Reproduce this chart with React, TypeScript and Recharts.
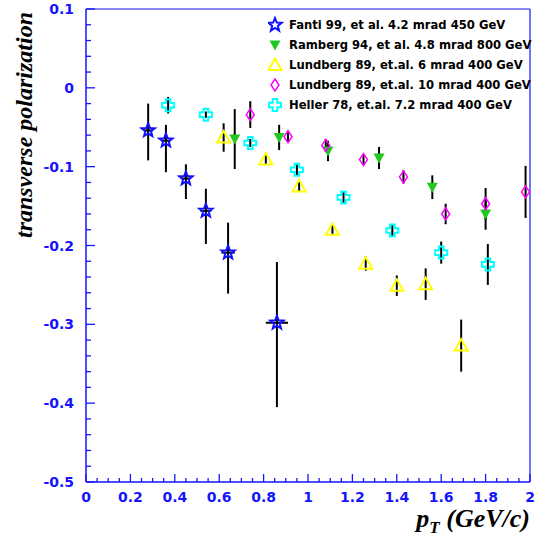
import React from "react";
import {
    ScatterChart,
    Scatter,
    XAxis,
    YAxis,
    ErrorBar,
    ReferenceLine,
    Legend,
} from "recharts";

// Fanti 99, 4.2 mrad 450 GeV (asymmetric errors: below, above)
const fantiPt = [0.28, 0.36, 0.45, 0.54, 0.64, 0.86];
const fantiPol = [-0.054, -0.067, -0.115, -0.156, -0.209, -0.298];
const fantiErrLow = [0.038, 0.04, 0.026, 0.042, 0.052, 0.107];
const fantiErrHigh = [0.034, 0.02, 0.018, 0.028, 0.038, 0.077];
const fantiPtErr = [0.02, 0.02, 0.02, 0.025, 0.03, 0.05];

// Ramberg 94, 4.8 mrad 800 GeV
const rambergPt = [0.67, 0.87, 1.09, 1.32, 1.56, 1.8];
const rambergPol = [-0.065, -0.063, -0.08, -0.089, -0.126, -0.16];
const rambergErr = [0.038, 0.016, 0.013, 0.014, 0.015, 0.02];

// Lundberg 89, 6 mrad 400 GeV
const lund6Pt = [0.62, 0.81, 0.96, 1.11, 1.26, 1.4, 1.53, 1.69];
const lund6Pol = [-0.063, -0.091, -0.125, -0.18, -0.223, -0.251, -0.249, -0.327];
const lund6Err = [0.018, 0.006, 0.006, 0.007, 0.009, 0.013, 0.02, 0.033];

// Lundberg 89, 10 mrad 400 GeV
const lund10Pt = [0.74, 0.91, 1.08, 1.25, 1.43, 1.62, 1.8, 1.98];
const lund10Pol = [-0.034, -0.062, -0.073, -0.091, -0.113, -0.16, -0.147, -0.132];
const lund10Err = [0.017, 0.007, 0.008, 0.006, 0.0085, 0.013, 0.02, 0.033];

// Heller 78, 7.2 mrad 400 GeV
const hellerPt = [0.37, 0.54, 0.74, 0.95, 1.16, 1.38, 1.6, 1.81];
const hellerPol = [-0.022, -0.034, -0.07, -0.104, -0.139, -0.181, -0.209, -0.224];
const hellerErr = [0.0105, 0.004, 0.005, 0.007, 0.007, 0.008, 0.014, 0.026];

const legendLabels = [
    "Fanti 99, et al. 4.2 mrad 450 GeV",
    "Ramberg 94, et al. 4.8 mrad 800 GeV",
    "Lundberg 89, et.al. 6 mrad 400 GeV",
    "Lundberg 89, et.al. 10 mrad 400 GeV",
    "Heller 78, et.al. 7.2 mrad 400 GeV",
];

// axis ticks in hundredths
const xTicks = Array.from({ length: 41 }, (_, i) => (i * 5) / 100);
const yTicks = Array.from({ length: 31 }, (_, i) => (-50 + i * 2) / 100);

const AXIS = "#1414ff";

const toPoints = (xs: number[], ys: number[], es: number[]) =>
    xs.map((x, i) => ({ x, y: ys[i], ey: es[i], ex: 0 }));

const fanti = fantiPt.map((x, i) => ({
    x,
    y: fantiPol[i],
    ey: [fantiErrLow[i], fantiErrHigh[i]],
    ex: fantiPtErr[i],
}));
const ramberg = toPoints(rambergPt, rambergPol, rambergErr);
const lund6 = toPoints(lund6Pt, lund6Pol, lund6Err);
const lund10 = toPoints(lund10Pt, lund10Pol, lund10Err);
const heller = toPoints(hellerPt, hellerPol, hellerErr);

const fmt = (v: number) => String(Math.round(v * 100) / 100);

function Star({ cx, cy }: { cx: number; cy: number }) {
    const pts: string[] = [];
    for (let k = 0; k < 10; k++) {
        const r = k % 2 === 0 ? 7 : 3;
        const a = -Math.PI / 2 + (k * Math.PI) / 5;
        pts.push(`${cx + r * Math.cos(a)},${cy + r * Math.sin(a)}`);
    }
    return <polygon points={pts.join(" ")} fill="none" stroke="#1010ff" strokeWidth={2} />;
}

function TriDown({ cx, cy }: { cx: number; cy: number }) {
    return (
        <polygon
            points={`${cx - 5.5},${cy - 4.5} ${cx + 5.5},${cy - 4.5} ${cx},${cy + 5.5}`}
            fill="#1ec81e"
        />
    );
}

function TriUp({ cx, cy }: { cx: number; cy: number }) {
    return (
        <polygon
            points={`${cx},${cy - 6.5} ${cx + 6.5},${cy + 5} ${cx - 6.5},${cy + 5}`}
            fill="none"
            stroke="#ffff00"
            strokeWidth={2}
        />
    );
}

function Diamond({ cx, cy }: { cx: number; cy: number }) {
    return (
        <polygon
            points={`${cx},${cy - 6} ${cx + 4},${cy} ${cx},${cy + 6} ${cx - 4},${cy}`}
            fill="none"
            stroke="#ff00ff"
            strokeWidth={1.5}
        />
    );
}

function Cross({ cx, cy }: { cx: number; cy: number }) {
    const a = 2.3;
    const l = 6;
    const d = [
        [-a, -l], [a, -l], [a, -a], [l, -a], [l, a], [a, a],
        [a, l], [-a, l], [-a, a], [-l, a], [-l, -a], [-a, -a],
    ]
        .map(([dx, dy]) => `${cx + dx},${cy + dy}`)
        .join(" ");
    return <polygon points={d} fill="none" stroke="#00ffff" strokeWidth={2} />;
}

const markers = [Star, TriDown, TriUp, Diamond, Cross];

const XTick = (props: any) => {
    const { x, y, payload } = props;
    const v = payload.value;
    const major = Math.round(v * 100) % 20 === 0;
    return (
        <g>
            <line x1={x} x2={x} y1={y} y2={y - (major ? 8 : 4)} stroke={AXIS} strokeWidth={1.3} />
            {major && (
                <text
                    x={x}
                    y={y + 20}
                    textAnchor="middle"
                    fill={AXIS}
                    fontFamily="DejaVu Sans"
                    fontWeight="bold"
                    fontSize={14}
                >
                    {fmt(v)}
                </text>
            )}
        </g>
    );
};

const YTick = (props: any) => {
    const { x, y, payload } = props;
    const v = payload.value;
    const major = Math.round(v * 100) % 10 === 0;
    return (
        <g>
            <line x1={x} x2={x + (major ? 9 : 5)} y1={y} y2={y} stroke={AXIS} strokeWidth={1.3} />
            {major && (
                <text
                    x={x - 12}
                    y={y + 5}
                    textAnchor="end"
                    fill={AXIS}
                    fontFamily="DejaVu Sans"
                    fontWeight="bold"
                    fontSize={14}
                >
                    {fmt(v)}
                </text>
            )}
        </g>
    );
};

const renderLegend = () => (
    <svg width={268} height={100}>
        {legendLabels.map((label, i) => {
            const M = markers[i];
            return (
                <g key={label}>
                    <M cx={7} cy={10 + i * 20} />
                    <text
                        x={21}
                        y={14 + i * 20}
                        fontFamily="DejaVu Sans"
                        fontWeight="bold"
                        fontSize={11.6}
                        fill="#000"
                    >
                        {label}
                    </text>
                </g>
            );
        })}
    </svg>
);

const series = [
    { name: "fanti", data: fanti, shape: Star, xerr: true },
    { name: "ramberg", data: ramberg, shape: TriDown, xerr: false },
    { name: "lund6", data: lund6, shape: TriUp, xerr: false },
    { name: "lund10", data: lund10, shape: Diamond, xerr: false },
    { name: "heller", data: heller, shape: Cross, xerr: false },
];

export default function App() {
    return (
        <div style={{ position: "absolute", left: 0, top: 0 }}>
            <ScatterChart
                width={537}
                height={540}
                margin={{ top: 9, right: 7, bottom: 0, left: 0 }}
            >
                <XAxis
                    type="number"
                    dataKey="x"
                    domain={[0, 2]}
                    ticks={xTicks}
                    interval={0}
                    allowDataOverflow
                    height={58}
                    tickSize={0}
                    tickMargin={0}
                    tickLine={false}
                    tick={<XTick />}
                    axisLine={{ stroke: AXIS, strokeWidth: 1.5 }}
                    label={{
                        content: () => (
                            <text
                                x={530}
                                y={527}
                                textAnchor="end"
                                fontFamily="Liberation Serif"
                                fontStyle="italic"
                                fontWeight="bold"
                                fontSize={26}
                                fill="#000"
                            >
                                <tspan>p</tspan>
                                <tspan fontSize={17} dy={6}>T</tspan>
                                <tspan dy={-6}> (GeV/c)</tspan>
                            </text>
                        ),
                    }}
                />
                <YAxis
                    type="number"
                    dataKey="y"
                    domain={[-0.5, 0.1]}
                    ticks={yTicks}
                    interval={0}
                    allowDataOverflow
                    width={86}
                    tickSize={0}
                    tickMargin={0}
                    tickLine={false}
                    tick={<YTick />}
                    axisLine={{ stroke: AXIS, strokeWidth: 1.5 }}
                    label={{
                        content: () => (
                            <text
                                x={32}
                                y={12}
                                transform="rotate(-90 32 12)"
                                textAnchor="end"
                                fontFamily="Liberation Serif"
                                fontStyle="italic"
                                fontWeight="bold"
                                fontSize={24}
                                fill="#000"
                            >
                                transverse polarization
                            </text>
                        ),
                    }}
                />
                <ReferenceLine y={0.1} stroke={AXIS} strokeWidth={1.2} />
                <ReferenceLine x={2} stroke={AXIS} strokeWidth={1.2} />
                <Legend
                    layout="vertical"
                    align="center"
                    verticalAlign="middle"
                    content={renderLegend}
                    wrapperStyle={{ left: 268, top: 15, width: 268, height: 100 }}
                />
                {series.map((s) => (
                    <Scatter
                        key={s.name}
                        name={s.name}
                        data={s.data}
                        isAnimationActive={false}
                        shape={(p: any) => <s.shape cx={p.cx} cy={p.cy} />}
                    />
                ))}
                {series.map((s) => (
                    <Scatter
                        key={s.name + "-err"}
                        name={s.name + "-err"}
                        data={s.data}
                        isAnimationActive={false}
                        legendType="none"
                        shape={() => <g />}
                    >
                        <ErrorBar dataKey="ey" direction="y" width={0} stroke="#000" strokeWidth={2} />
                        {s.xerr && (
                            <ErrorBar dataKey="ex" direction="x" width={0} stroke="#000" strokeWidth={2} />
                        )}
                    </Scatter>
                ))}
            </ScatterChart>
        </div>
    );
}
